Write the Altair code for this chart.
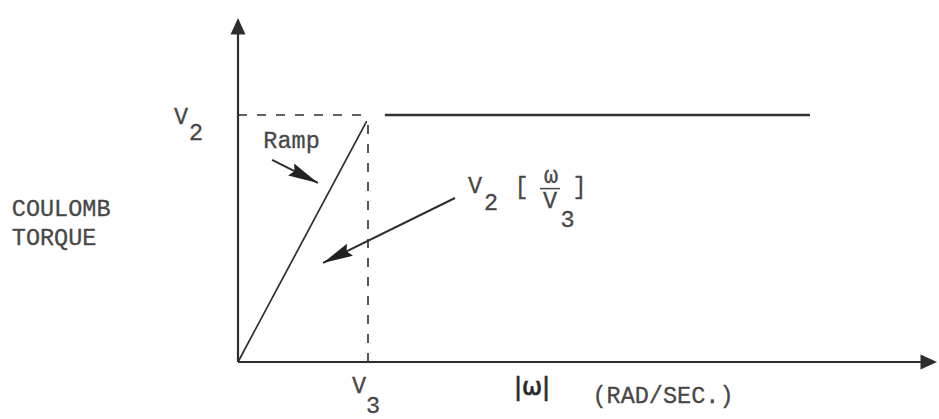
import math

import altair as alt
import pandas as pd

# ---- canvas / coordinate frame -------------------------------------------
W, H = 939, 419
ORIGIN_PX = (238, 362)      # where |w| = 0 and torque = 0 sit on the page
PX_PER_X = 130              # pixels per unit of V3 along |w|
PX_PER_Y = 247              # pixels per unit of V2 along torque

X_DOMAIN = [-ORIGIN_PX[0] / PX_PER_X, (W - ORIGIN_PX[0]) / PX_PER_X]
Y_DOMAIN = [-(H - ORIGIN_PX[1]) / PX_PER_Y, ORIGIN_PX[1] / PX_PER_Y]

# ---- curve values (in units of V3 and V2) --------------------------------
V2 = 1.0
V3 = 1.0
ramp_x = [0.0, 0.99]
ramp_y = [0.0, 0.975]
sat_x = [1.13, 4.40]
sat_y = [V2, V2]

# axis extents (tips of the arrowheads)
x_axis_tip = 5.377
y_axis_tip = 1.393
axis_head_len = 16.5        # px

# annotation arrows: start point -> tip
arrow_start_x = [0.262, 1.669]
arrow_start_y = [0.818, 0.664]
arrow_tip_x = [0.615, 0.654]
arrow_tip_y = [0.725, 0.401]

INK = "#2e2e2e"
TEXT_INK = "#474747"
MONO = "Liberation Mono"
FONT_SIZE = 23.5

xs = alt.Scale(domain=X_DOMAIN, nice=False, zero=False)
ys = alt.Scale(domain=Y_DOMAIN, nice=False, zero=False)


def X(field="x"):
    return alt.X(f"{field}:Q", scale=xs, axis=None)


def Y(field="y"):
    return alt.Y(f"{field}:Q", scale=ys, axis=None)


def seg_chart(df, **mark):
    return alt.Chart(df).mark_rule(**mark).encode(
        x=X("x"), y=Y("y"), x2="x2:Q", y2="y2:Q"
    )


# ---- axes ----------------------------------------------------------------
axes_df = pd.DataFrame({
    "x": [0.0, 0.0],
    "y": [0.0, 0.0],
    "x2": [x_axis_tip - axis_head_len / PX_PER_X * 0.6, 0.0],
    "y2": [0.0, y_axis_tip - axis_head_len / PX_PER_Y * 0.6],
})
axes = seg_chart(axes_df, color=INK, strokeWidth=2.2)

axis_heads_df = pd.DataFrame({
    "x": [x_axis_tip, 0.0],
    "y": [0.0, y_axis_tip],
    "angle": [90.0, 0.0],
})
axis_heads = alt.Chart(axis_heads_df).mark_point(
    shape="M0,0L1,2.2L-1,2.2Z", filled=True, opacity=1, color=INK,
    size=225, strokeWidth=0,
).encode(x=X(), y=Y(), angle=alt.Angle("angle:Q", scale=None))

# ---- dashed guides at V2 and V3 -----------------------------------------
guides_df = pd.DataFrame({
    "x": [0.0, V3],
    "y": [V2, 0.0],
    "x2": [V3, V3],
    "y2": [V2, V2],
})
guides = seg_chart(guides_df, color=INK, strokeWidth=1.6, strokeDash=[9, 10])

# ---- coulomb torque curve -----------------------------------------------
ramp = seg_chart(pd.DataFrame({
    "x": [ramp_x[0]], "y": [ramp_y[0]], "x2": [ramp_x[1]], "y2": [ramp_y[1]],
}), color=INK, strokeWidth=1.7)

sat = seg_chart(pd.DataFrame({
    "x": [sat_x[0]], "y": [sat_y[0]], "x2": [sat_x[1]], "y2": [sat_y[1]],
}), color="#333333", strokeWidth=2.6)

# ---- annotation arrows ---------------------------------------------------
shafts = seg_chart(pd.DataFrame({
    "x": arrow_start_x, "y": arrow_start_y,
    "x2": arrow_tip_x, "y2": arrow_tip_y,
}), color=INK, strokeWidth=2.0)

angles = []
for sx, sy, tx, ty in zip(arrow_start_x, arrow_start_y, arrow_tip_x, arrow_tip_y):
    dx = (tx - sx) * PX_PER_X
    dy = -(ty - sy) * PX_PER_Y          # screen y grows downward
    angles.append(math.degrees(math.atan2(dx, -dy)) % 360)

heads = alt.Chart(pd.DataFrame({
    "x": arrow_tip_x, "y": arrow_tip_y, "angle": angles,
})).mark_point(
    shape="M0,0L0.45,2L0,1.75L-0.45,2Z", filled=True, opacity=1,
    color="#222222", size=900, strokeWidth=0,
).encode(x=X(), y=Y(), angle=alt.Angle("angle:Q", scale=None))

# fraction bar of w / V3
frac_bar = seg_chart(pd.DataFrame({
    "x": [2.323], "y": [0.702], "x2": [2.477], "y2": [0.702],
}), color=TEXT_INK, strokeWidth=1.5)

# ---- text ----------------------------------------------------------------
centered = pd.DataFrame([
    ("V", -0.438, 0.964),
    ("2", -0.323, 0.899),
    ("Ramp", 0.412, 0.866),
    ("V", 1.823, 0.684),
    ("2", 1.946, 0.615),
    ("ω", 2.408, 0.725),
    ("V", 2.400, 0.623),
    ("3", 2.535, 0.547),
    ("V", 0.931, -0.126),
    ("3", 1.038, -0.205),
    ("(RAD/SEC.)", 3.269, -0.166),
], columns=["label", "x", "y"])

brackets = pd.DataFrame([
    ("[", 2.181, 0.709),
    ("]", 2.627, 0.709),
], columns=["label", "x", "y"])

left_text = pd.DataFrame([
    ("COULOMB", -1.740, 0.591),
    ("TORQUE", -1.740, 0.474),
], columns=["label", "x", "y"])

abs_w = pd.DataFrame([("|ω|", 2.262, -0.105)], columns=["label", "x", "y"])


def text_layer(df, **mark):
    # a hairline outline in the fill colour gives the typewriter glyphs some body
    style = dict(font=MONO, fontSize=FONT_SIZE, color=TEXT_INK,
                 stroke=TEXT_INK, strokeWidth=0.3)
    style.update(mark)
    return alt.Chart(df).mark_text(**style).encode(
        x=X(), y=Y(), text="label:N"
    )


texts = [
    text_layer(centered, align="center", baseline="alphabetic"),
    text_layer(brackets, align="center", baseline="middle"),
    text_layer(left_text, align="left", baseline="alphabetic"),
    text_layer(abs_w, align="center", baseline="middle",
               font="DejaVu Sans", fontSize=24, color="#2a2a2a",
               stroke="#2a2a2a", strokeWidth=0.7),
]

chart = alt.layer(
    guides, axes, axis_heads, ramp, sat, shafts, heads, frac_bar, *texts
).properties(
    width=W, height=H, padding=0,
    autosize=alt.AutoSizeParams(type="none"),
    background="white",
).configure_view(stroke=None)

chart.save("out.html", embed_options={"renderer": "svg", "actions": False})
